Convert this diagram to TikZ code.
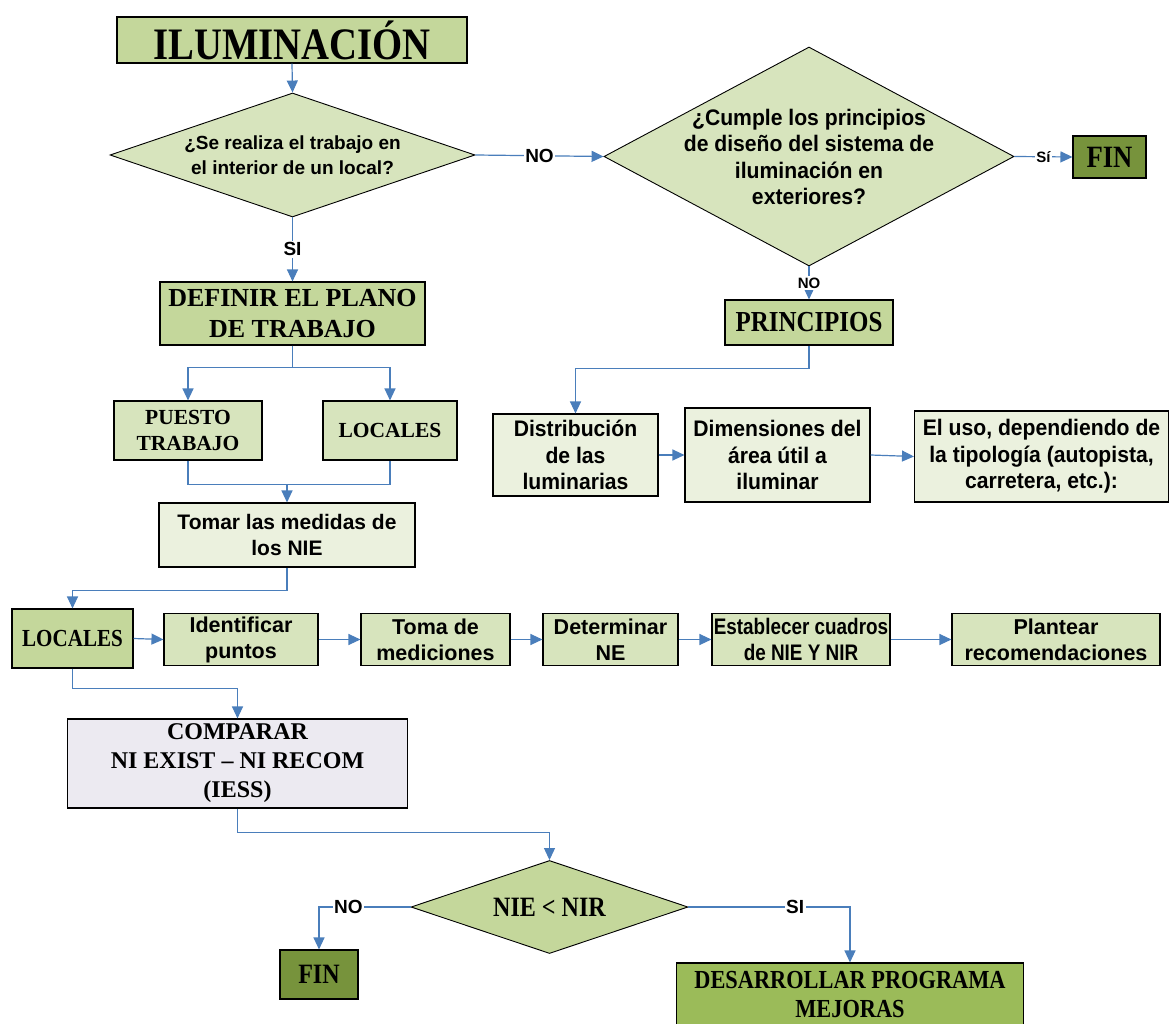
\documentclass[tikz,border=0pt]{standalone}
\usepackage{fontspec}
\setmainfont{Liberation Serif}
\newfontfamily\arialfont{Liberation Sans}
\newfontfamily\arialnarrow[FakeStretch=0.94]{Liberation Sans}
\newfontfamily\arialcond[FakeStretch=0.84]{Liberation Sans}
\newfontfamily\timesnarrow[FakeStretch=0.86]{Liberation Serif}
\usetikzlibrary{arrows.meta,shapes.geometric}

\definecolor{verdemedio}{HTML}{C4D79B}
\definecolor{verdeclaro}{HTML}{D7E4BD}
\definecolor{verdepalido}{HTML}{EBF1DE}
\definecolor{verdeoscuro}{HTML}{77933C}
\definecolor{verdefuerte}{HTML}{9BBB59}
\definecolor{lila}{HTML}{ECEAF1}
\definecolor{azul}{HTML}{4A7EBB}

\tikzset{
  caja/.style={draw=black, line width=1.1pt, inner sep=1pt, align=center},
  rombo/.style={diamond, draw=black, line width=0.9pt, inner sep=0pt},
  conector/.style={draw=azul, line width=1.2pt, -{Triangle[length=12pt,width=11pt]}},
  linea/.style={draw=azul, line width=1.2pt},
  etiqueta/.style={fill=white, inner sep=1.5pt, font=\arialfont\bfseries\fontsize{19}{19}\selectfont},
  arialb/.style={font=\arialfont\bfseries\fontsize{#1}{26}\selectfont},
}

\begin{document}
\begin{tikzpicture}[x=1pt,y=-1pt]
  \useasboundingbox[fill=white] (0,0) rectangle (1170,1024);

  % columna izquierda
  \node[caja, fill=verdemedio, minimum width=350pt, minimum height=46pt,
        font=\timesnarrow\bfseries\fontsize{45}{45}\selectfont] (ilum) at (292,40) {ILUMINACIÓN};
  \node[rombo, fill=verdeclaro, minimum width=365pt, minimum height=124pt] (local) at (292.5,155) {};
  \node[align=center, font=\arialfont\bfseries\fontsize{19}{25}\selectfont] (localtxt) at (local)
        {¿Se realiza el trabajo en\\el interior de un local?};
  \node[caja, fill=verdemedio, minimum width=265pt, minimum height=63pt,
        font=\bfseries\fontsize{26}{31}\selectfont] (plano) at (292.5,313.5) {DEFINIR EL PLANO\\DE TRABAJO};
  \node[caja, fill=verdeclaro, minimum width=148pt, minimum height=59pt,
        font=\bfseries\fontsize{21.5}{26}\selectfont] (puesto) at (188,430.5) {PUESTO\\TRABAJO};
  \node[caja, fill=verdeclaro, minimum width=134pt, minimum height=59pt,
        font=\bfseries\fontsize{21.5}{26}\selectfont] (locales) at (390,430.5) {LOCALES};
  \node[caja, fill=verdepalido, minimum width=256pt, minimum height=64pt, arialb=21] (medidas) at (287,535)
        {Tomar las medidas de\\los NIE};

  % rama de exteriores
  \node[rombo, fill=verdeclaro, minimum width=410pt, minimum height=219pt] (cumple) at (809,156.5) {};
  \node[align=center, font=\arialnarrow\bfseries\fontsize{22.5}{26.5}\selectfont] (cumpletxt) at (809,157)
        {¿Cumple los principios\\de diseño del sistema de\\iluminación en\\exteriores?};
  \node[caja, fill=verdeoscuro, minimum width=73pt, minimum height=42pt,
        font=\timesnarrow\bfseries\fontsize{31}{31}\selectfont] (finuno) at (1109.5,157) {FIN};
  \node[caja, fill=verdemedio, minimum width=168pt, minimum height=45pt,
        font=\timesnarrow\bfseries\fontsize{29}{29}\selectfont] (principios) at (809,322.5) {PRINCIPIOS};
  \node[caja, fill=verdepalido, minimum width=165pt, minimum height=82pt,
        font=\arialnarrow\bfseries\fontsize{22.5}{26.5}\selectfont] (distrib) at (575.5,455)
        {Distribución\\de las\\luminarias};
  \node[caja, fill=verdepalido, minimum width=185pt, minimum height=94pt,
        font=\arialnarrow\bfseries\fontsize{22.5}{26.5}\selectfont] (dimens) at (777.5,455)
        {Dimensiones del\\área útil a\\iluminar};
  \node[caja, fill=verdepalido, minimum width=254pt, minimum height=91pt,
        font=\arialnarrow\bfseries\fontsize{22.5}{26.5}\selectfont] (uso) at (1041.5,456.5)
        {El uso, dependiendo de\\la tipología (autopista,\\carretera, etc.):};

  % fila de locales
  \node[caja, fill=verdemedio, minimum width=121pt, minimum height=59pt,
        font=\timesnarrow\bfseries\fontsize{24.5}{24.5}\selectfont] (localesdos) at (72.5,638.5) {LOCALES};
  \node[caja, fill=verdeclaro, minimum width=154pt, minimum height=52pt, arialb=21.5] (puntos) at (241,639.5)
        {Identificar\\puntos};
  \node[caja, fill=verdeclaro, minimum width=149pt, minimum height=52pt, arialb=21.5] (toma) at (435.5,639.5)
        {Toma de\\mediciones};
  \node[caja, fill=verdeclaro, minimum width=135pt, minimum height=52pt, arialb=21.5] (ne) at (610.5,639.5)
        {Determinar\\NE};
  \node[caja, fill=verdeclaro, minimum width=178pt, minimum height=52pt,
        font=\arialcond\bfseries\fontsize{22.5}{26}\selectfont] (cuadros) at (801,639.5)
        {Establecer cuadros\\de NIE Y NIR};
  \node[caja, fill=verdeclaro, minimum width=208pt, minimum height=52pt, arialb=21.5] (recom) at (1056,639.5)
        {Plantear\\recomendaciones};

  % parte final
  \node[caja, fill=lila, minimum width=340pt, minimum height=89pt,
        font=\bfseries\fontsize{24}{29}\selectfont] (comparar) at (237.5,763.5)
        {COMPARAR\\NI EXIST -- NI RECOM\\(IESS)};
  \node[rombo, fill=verdemedio, minimum width=277pt, minimum height=93pt] (nienir) at (549.5,907) {};
  \node[font=\timesnarrow\bfseries\fontsize{28}{28}\selectfont] (nienirtxt) at (549.5,907) {NIE < NIR};
  \node[caja, fill=verdeoscuro, minimum width=78pt, minimum height=49pt,
        font=\timesnarrow\bfseries\fontsize{28}{28}\selectfont] (findos) at (319,974.5) {FIN};
  \node[caja, fill=verdefuerte, minimum width=347pt, minimum height=64pt,
        font=\timesnarrow\bfseries\fontsize{26}{29}\selectfont] (mejoras) at (850,995)
        {DESARROLLAR PROGRAMA\\MEJORAS};

  % conectores
  \draw[conector] (ilum.south) -- (local.north);
  \draw[conector] (local.east) -- node[etiqueta] {NO} (cumple.west);
  \draw[conector] (cumple.east) -- node[etiqueta, font=\arialfont\bfseries\fontsize{15}{15}\selectfont] {Sí} (finuno.west);
  \draw[conector] (cumple.south) -- node[etiqueta, font=\arialfont\bfseries\fontsize{15}{15}\selectfont] {NO} (principios.north);
  \draw[conector] (principios.south) -- ++(0,23) -| (distrib.north);
  \draw[conector] (distrib.east) -- (dimens.west);
  \draw[conector] (dimens.east) -- (uso.west);

  \draw[conector] (local.south) -- node[etiqueta] {SI} (plano.north);
  \draw[conector] (plano.south) -- ++(0,22) -| (puesto.north);
  \draw[conector] (plano.south) -- ++(0,22) -| (locales.north);
  \draw[linea] (puesto.south) -- ++(0,24) coordinate (junta) -| (locales.south);
  \draw[conector] (junta -| medidas.north) -- (medidas.north);
  \draw[conector] (medidas.south) -- ++(0,23) -| (localesdos.north);

  \draw[conector] (localesdos.east) -- (puntos.west);
  \draw[conector] (puntos.east) -- (toma.west);
  \draw[conector] (toma.east) -- (ne.west);
  \draw[conector] (ne.east) -- (cuadros.west);
  \draw[conector] (cuadros.east) -- (recom.west);

  \draw[conector] (localesdos.south) -- ++(0,20) -| (comparar.north);
  \draw[conector] (comparar.south) -- ++(0,24) -| (nienir.north);
  \draw[conector] (nienir.west) -| node[etiqueta, pos=0.34] {NO} (findos.north);
  \draw[conector] (nienir.east) -| node[etiqueta, pos=0.33] {SI} (mejoras.north);
\end{tikzpicture}
\end{document}
